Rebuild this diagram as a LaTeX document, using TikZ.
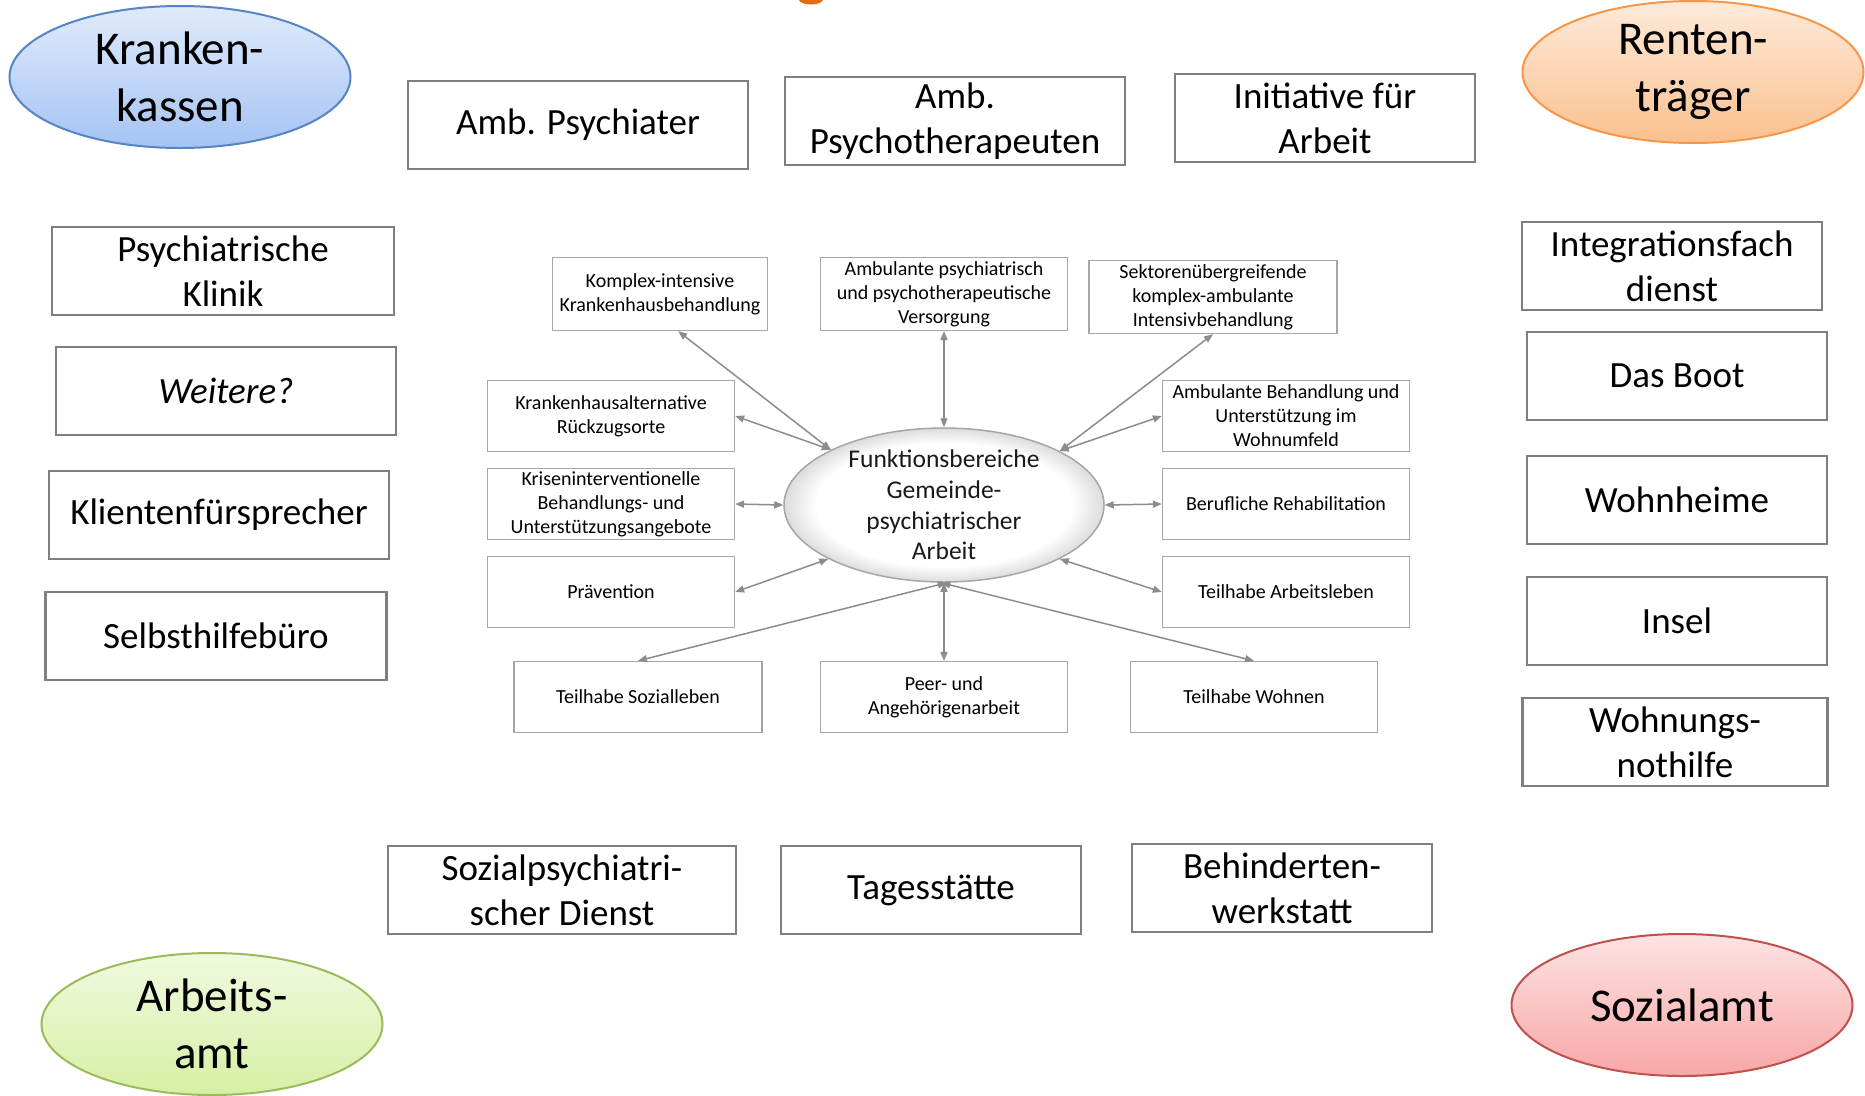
\documentclass[tikz,border=0pt]{standalone}
\usepackage{fontspec}
\setmainfont{Carlito}
\usetikzlibrary{shapes.geometric,arrows.meta}
\definecolor{boxgray}{HTML}{7F7F7F}
\definecolor{sgray}{HTML}{A6A6A6}
\definecolor{lgray}{HTML}{8C8C8C}
\definecolor{rimgray}{HTML}{DCDCDC}
\definecolor{kkborder}{HTML}{5585C5}
\definecolor{kktop}{HTML}{E0EBFB}
\definecolor{kkbot}{HTML}{A5C3F4}
\definecolor{rtborder}{HTML}{F79646}
\definecolor{rttop}{HTML}{FDEADA}
\definecolor{rtbot}{HTML}{FAC08F}
\definecolor{aaborder}{HTML}{9BBB59}
\definecolor{aatop}{HTML}{F0F9DE}
\definecolor{aabot}{HTML}{D6F0A5}
\definecolor{saborder}{HTML}{C0504D}
\definecolor{satop}{HTML}{FDE3E3}
\definecolor{sabot}{HTML}{F8A7A6}
\definecolor{orblob}{HTML}{E46C0A}
\pgfdeclareradialshading{rimshade}{\pgfpoint{0bp}{0bp}}{color(0bp)=(white); color(20bp)=(white); color(25bp)=(rimgray); color(50bp)=(rimgray)}
\tikzset{
  bigbox/.style={draw=boxgray, line width=2.4pt, fill=white, minimum height=88pt, inner sep=0pt, align=center, font=\fontsize{37}{45}\selectfont},
  smallbox/.style={draw=sgray, line width=1.3pt, fill=white, minimum width=247pt, minimum height=71pt, inner sep=0pt, align=center, font=\fontsize{20}{24}\selectfont},
  funder/.style={ellipse, line width=2pt, minimum width=341pt, minimum height=142pt, inner sep=0pt},
  ftext/.style={align=center, inner sep=0pt, font=\fontsize{47}{57}\selectfont},
  conn/.style={draw=lgray, line width=1.5pt, arrows={Triangle[length=9pt,width=7pt]-Triangle[length=9pt,width=7pt]}}
}
\begin{document}
\begin{tikzpicture}[x=1pt,y=-1pt]
\fill[white] (0,0) rectangle (1865,1095);
\useasboundingbox (0,0) rectangle (1865,1095);

% partial orange glyph at top
\fill[orblob] (799,0) .. controls (801,6) and (821,6) .. (823,0) -- cycle;

% funding ellipses
\node[funder, draw=kkborder, top color=kktop, bottom color=kkbot] (kk) at (180,77) {};
\node[ftext] (kkt) at (kk.center) {Kranken-\\kassen};
\node[funder, draw=rtborder, top color=rttop, bottom color=rtbot] (rt) at (1693,72) {};
\node[ftext] (rtt) at (rt.center) {Renten-\\träger};
\node[funder, draw=aaborder, top color=aatop, bottom color=aabot] (aa) at (212,1024) {};
\node[ftext] (aat) at (aa.center) {Arbeits-\\amt};
\node[funder, draw=saborder, top color=satop, bottom color=sabot] (sa) at (1682,1005) {};
\node[ftext] (sat) at (sa.center) {Sozialamt};

% top boxes
\node[bigbox, minimum width=340pt] (amps) at (578,125) {Amb. Psychiater};
\node[bigbox, minimum width=340pt] (ampt) at (955,121) {Amb.\\Psychotherapeuten};
\node[bigbox, minimum width=300pt] (ifa) at (1325,118) {Initiative für\\Arbeit};

% left boxes
\node[bigbox, minimum width=342pt] (pk) at (223,271) {Psychiatrische\\Klinik};
\node[bigbox, minimum width=340pt] (weit) at (226,391) {\textit{Weitere?}};
\node[bigbox, minimum width=340pt] (kf) at (219,515) {Klientenfürsprecher};
\node[bigbox, minimum width=341pt] (shb) at (216,636) {Selbsthilfebüro};

% right boxes
\node[bigbox, minimum width=300pt] (ifd) at (1672,266) {Integrationsfach\\dienst};
\node[bigbox, minimum width=300pt] (boot) at (1677,376) {Das Boot};
\node[bigbox, minimum width=300pt] (wh) at (1677,500) {Wohnheime};
\node[bigbox, minimum width=300pt] (insel) at (1677,621) {Insel};
\node[bigbox, minimum width=305pt] (wnh) at (1675,742) {Wohnungs-\\nothilfe};

% bottom boxes
\node[bigbox, minimum width=348pt] (spd) at (562,890) {Sozialpsychiatri-\\scher Dienst};
\node[bigbox, minimum width=300pt] (tag) at (931,890) {Tagesstätte};
\node[bigbox, minimum width=300pt] (bw) at (1282,888) {Behinderten-\\werkstatt};

% central ellipse
\node[ellipse, draw=sgray, line width=1.5pt, minimum width=320pt, minimum height=154pt, inner sep=0pt, shading=rimshade] (cen) at (944,505) {};
\node[align=center, inner sep=0pt, text=black!90, font=\fontsize{25.5}{30.6}\selectfont] (cent) at (cen.center) {Funktionsbereiche\\Gemeinde-\\psychiatrischer\\Arbeit};

% small boxes
\node[smallbox, minimum width=215pt, minimum height=73pt] (kompl) at (660,294) {Komplex-intensive\\Krankenhausbehandlung};
\node[smallbox, minimum height=73pt] (ambv) at (944,294) {Ambulante psychiatrisch\\und psychotherapeutische\\Versorgung};
\node[smallbox, minimum width=248pt, minimum height=73pt] (sekt) at (1213,297) {Sektorenübergreifende\\komplex-ambulante\\Intensivbehandlung};
\node[smallbox] (kha) at (611,416) {Krankenhausalternative\\Rückzugsorte};
\node[smallbox] (kris) at (611,504) {Kriseninterventionelle\\Behandlungs- und\\Unterstützungsangebote};
\node[smallbox] (prae) at (611,592) {Prävention};
\node[smallbox] (wohnu) at (1286,416) {Ambulante Behandlung und\\Unterstützung im\\Wohnumfeld};
\node[smallbox] (beruf) at (1286,504) {Berufliche Rehabilitation};
\node[smallbox] (arbl) at (1286,592) {Teilhabe Arbeitsleben};
\node[smallbox, minimum width=248pt] (sozl) at (638,697) {Teilhabe Sozialleben};
\node[smallbox] (peer) at (944,697) {Peer- und\\Angehörigenarbeit};
\node[smallbox] (wohn) at (1254,697) {Teilhabe Wohnen};

% connectors
\draw[conn] (kompl.296) -- (cen.154);
\draw[conn] (ambv.south) -- (cen.90);
\draw[conn] (sekt.south) -- (cen.25);
\draw[conn] (kha.east) -- (cen.154);
\draw[conn] (kris.east) -- (cen.180);
\draw[conn] (prae.east) -- (cen.205);
\draw[conn] (wohnu.west) -- (cen.25);
\draw[conn] (beruf.west) -- (cen.0);
\draw[conn] (arbl.west) -- (cen.335);
\draw[conn] (sozl.north) -- (cen.272);
\draw[conn] (peer.north) -- (cen.270);
\draw[conn] (wohn.north) -- (cen.268);
\end{tikzpicture}
\end{document}
